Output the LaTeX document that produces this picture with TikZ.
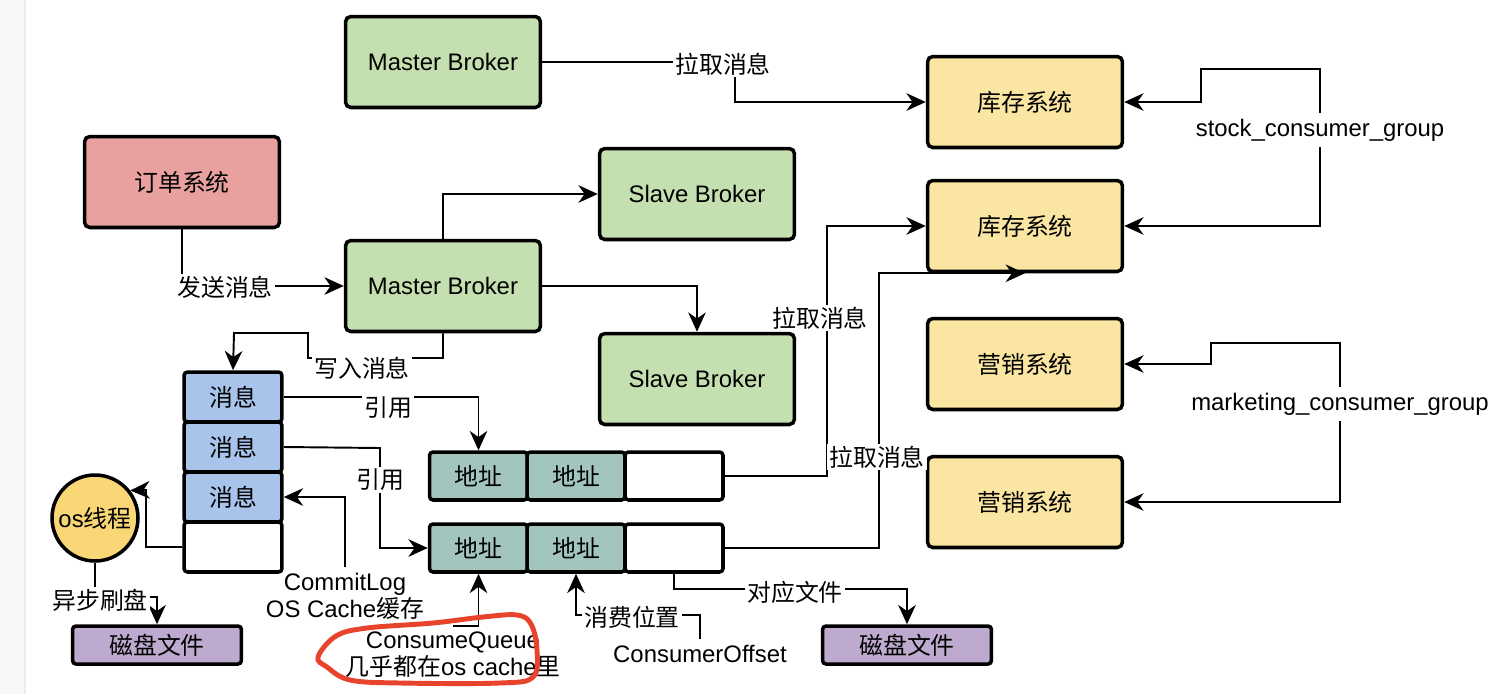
\documentclass[tikz,border=0pt]{standalone}
\usepackage{fontspec}
\setmainfont{Liberation Sans}
\newfontfamily\cjk{Noto Sans CJK SC}
\usetikzlibrary{arrows.meta}
\definecolor{brokergreen}{HTML}{C5E0B0}
\definecolor{orderred}{HTML}{E8A19E}
\definecolor{sysyellow}{HTML}{FAE5A3}
\definecolor{msgblue}{HTML}{A9C4EB}
\definecolor{addrteal}{HTML}{A2C5BD}
\definecolor{diskpurple}{HTML}{BDAACE}
\definecolor{threadyellow}{HTML}{F9D776}
\definecolor{penred}{HTML}{E8432D}
\tikzset{
  txt/.style={font=\fontsize{13.6}{15.5}\selectfont, align=center},
  box/.style={txt, draw, line width=2pt, rounded corners=3pt,
    minimum width=3.9cm, minimum height=1.82cm},
  cell/.style={txt, draw, line width=2pt, rounded corners=2pt,
    minimum width=1.96cm, minimum height=1cm},
  qcell/.style={cell, minimum height=0.96cm, fill=addrteal},
  disk/.style={txt, draw, line width=2pt, rounded corners=2pt,
    minimum width=3.38cm, minimum height=0.76cm, fill=diskpurple},
  lbl/.style={txt, fill=white, inner sep=1pt},
  arr/.style={line width=1.1pt, -{Stealth[length=11pt,width=10pt,inset=3.5pt]}}
}
\begin{document}
\begin{tikzpicture}[x=0.02cm,y=-0.02cm]
  \useasboundingbox (0,0) rectangle (1502,694);
  \fill[white] (0,0) rectangle (1502,694);
  \fill[gray!6] (0,0) rectangle (25,694);
  \draw[gray!15, line width=1pt] (25,0) -- (25,694);

  % brokers and systems
  \node[box, fill=brokergreen] (mb1) at (443,62) {Master Broker};
  \node[box, fill=orderred] (ord) at (182,182) {\cjk 订单系统};
  \node[box, fill=brokergreen] (sb1) at (697,194) {Slave Broker};
  \node[box, fill=brokergreen] (mb2) at (443,286) {Master Broker};
  \node[box, fill=brokergreen] (sb2) at (697,379) {Slave Broker};
  \node[box, fill=sysyellow] (k1) at (1025,102) {\cjk 库存系统};
  \node[box, fill=sysyellow] (k2) at (1025,226) {\cjk 库存系统};
  \node[box, fill=sysyellow] (y1) at (1025,364) {\cjk 营销系统};
  \node[box, fill=sysyellow] (y2) at (1025,502) {\cjk 营销系统};

  % commitlog
  \node[cell, fill=msgblue] (c1) at (233,397) {\cjk 消息};
  \node[cell, fill=msgblue] (c2) at (233,447) {\cjk 消息};
  \node[cell, fill=msgblue] (c3) at (233,497) {\cjk 消息};
  \node[cell, fill=white] (c4) at (233,547) {};

  % consumequeue
  \node[qcell] (q11) at (478.5,476) {\cjk 地址};
  \node[qcell] (q12) at (576,476) {\cjk 地址};
  \node[qcell, fill=white] (q13) at (674,476) {};
  \node[qcell] (q21) at (478.5,548) {\cjk 地址};
  \node[qcell] (q22) at (576,548) {\cjk 地址};
  \node[qcell, fill=white] (q23) at (674,548) {};

  \node[txt, circle, draw, line width=2pt, fill=threadyellow,
    minimum size=1.72cm, inner sep=0pt] (os) at (95,518) {os{\cjk 线程}};
  \node[disk] (d1) at (157,645) {\cjk 磁盘文件};
  \node[disk] (d2) at (907,645) {\cjk 磁盘文件};

  \node[txt] (ct) at (345,596) {CommitLog\\OS Cache{\cjk 缓存}};
  \node[txt] (cq) at (453,655) {ConsumeQueue\\{\cjk 几乎都在}os cache{\cjk 里}};
  \node[txt] (co) at (700,654) {ConsumerOffset};
  \node[txt] (sg) at (1320,130) {stock\_consumer\_group};
  \node[txt] (mg) at (1340,404) {marketing\_consumer\_group};

  % connectors
  \draw[arr] (mb1.east) -- (735,62) |- (k1.west);
  \draw[arr] (ord.south) |- (mb2.west);
  \draw[arr] (mb2.north) |- (sb1.west);
  \draw[arr] (mb2.east) -| (sb2.north);
  \draw[arr] (mb2.south) -- (443,358) -- (308,358) -- (308,333) -- (234,333) -- (c1.north);
  \draw[arr] (c1.east) -| (q11.north);
  \draw[arr] (c2.east) -- (380,448) |- (q21.west);
  \draw[arr] (ct.north) |- (c3.east);
  \draw[arr] (c4.west) -- (146,547) -- (146,490) -- (os.38);
  \draw[arr] (os.south) -- (95,597) -| (d1.north);
  \draw[arr] (cq.north) -| (q21.south);
  \draw[arr] (co.north) -- (700,615) -- (576,615) -- (q22.south);
  \draw[arr] (q23.south) -- (674,589) -| (d2.north);
  \draw[arr] (q13.east) -- (827,476) |- (k2.west);
  \draw[arr] (q23.east) -- (879,548) |- (k2.south);
  \draw[arr] (sg.north) |- (1201,69) |- (k1.east);
  \draw[arr] (sg.south) |- (k2.east);
  \draw[arr] (mg.north) |- (1211,343) |- (y1.east);
  \draw[arr] (mg.south) |- (y2.east);

  % labels
  \node[lbl] (l1) at (723,64) {\cjk 拉取消息};
  \node[lbl] (l2) at (225,287) {\cjk 发送消息};
  \node[lbl] (l3) at (362,368) {\cjk 写入消息};
  \node[lbl] (l4) at (388,408) {\cjk 引用};
  \node[lbl] (l5) at (380,480) {\cjk 引用};
  \node[lbl] (l6) at (100,600) {\cjk 异步刷盘};
  \node[lbl] (l7) at (632,617) {\cjk 消费位置};
  \node[lbl] (l8) at (795,592) {\cjk 对应文件};
  \node[lbl] (l9) at (820,318) {\cjk 拉取消息};
  \node[lbl] (l10) at (877,457) {\cjk 拉取消息};

  % hand drawn mark
  \draw[penred, line width=2.8pt, line cap=round] plot[smooth cycle, tension=0.6] coordinates {
    (318,657) (336,636) (367,628) (433,623) (483,617) (517,615) (531,624)
    (537,650) (533,677) (500,683) (400,683) (350,680) (327,667)};
\end{tikzpicture}
\end{document}
